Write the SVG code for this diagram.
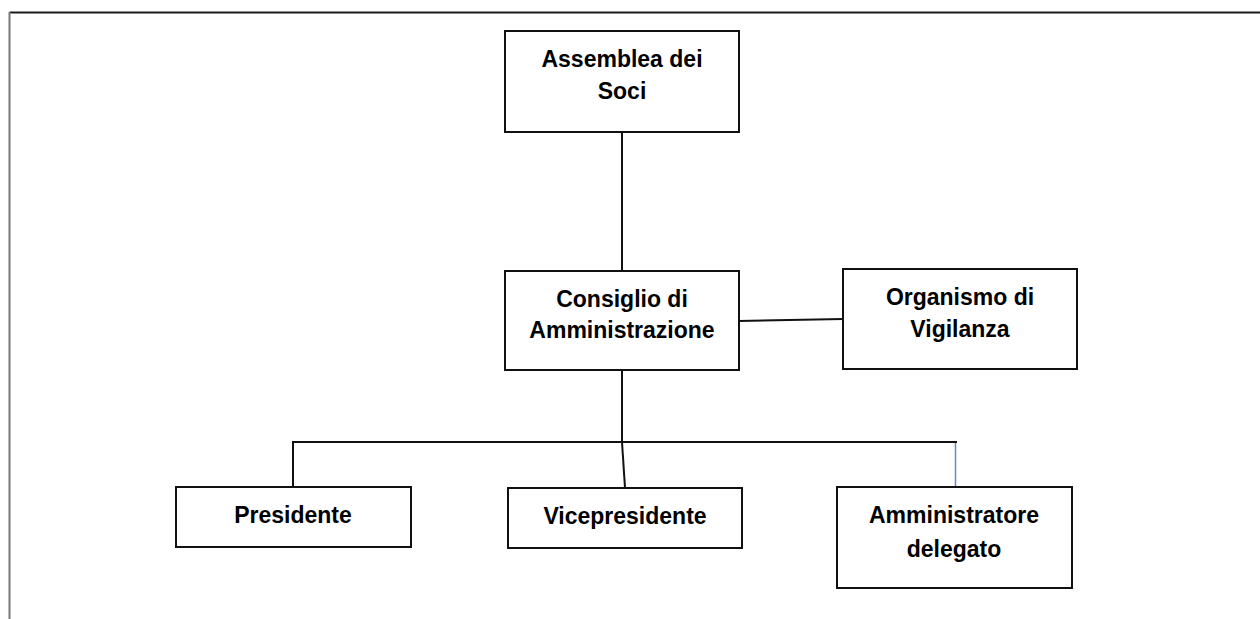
<svg xmlns="http://www.w3.org/2000/svg" width="1260" height="619" viewBox="0 0 1260 619">
<style>
.box{fill:#fff;stroke:#111;stroke-width:2}
.lbl{font-family:"Liberation Sans",Arial,sans-serif;font-weight:700;font-size:23px;fill:#000;text-anchor:middle}
.conn{stroke:#111;stroke-width:2;fill:none}
</style>
<rect width="1260" height="619" fill="#fff"/>
<g id="frame">
<line x1="9.5" y1="12.5" x2="1260" y2="12.5" stroke="#1a1a1a" stroke-width="2"/>
<line x1="9.5" y1="12" x2="9.5" y2="619" stroke="#777" stroke-width="2"/>
</g>
<g id="connectors">
<line class="conn" x1="622" y1="133" x2="622" y2="271"/>
<line class="conn" x1="739" y1="321" x2="843" y2="319"/>
<line class="conn" x1="622" y1="370" x2="622" y2="442"/>
<polyline class="conn" points="293,487 293,442 957,442"/>
<line class="conn" x1="622" y1="442" x2="625" y2="488"/>
<line x1="955.5" y1="443" x2="955.5" y2="487" stroke="#5b8bd0" stroke-width="1.5"/>
</g>
<g id="assemblea">
<rect class="box" x="505" y="31" width="234" height="101"/>
<text class="lbl" x="622" y="67">Assemblea dei</text>
<text class="lbl" x="622" y="99">Soci</text>
</g>
<g id="consiglio">
<rect class="box" x="505" y="271" width="234" height="99"/>
<text class="lbl" x="622" y="307">Consiglio di</text>
<text class="lbl" x="622" y="338">Amministrazione</text>
</g>
<g id="organismo">
<rect class="box" x="843" y="269" width="234" height="100"/>
<text class="lbl" x="960" y="305">Organismo di</text>
<text class="lbl" x="960" y="337">Vigilanza</text>
</g>
<g id="presidente">
<rect class="box" x="176" y="487" width="235" height="60"/>
<text class="lbl" x="293" y="523">Presidente</text>
</g>
<g id="vicepresidente">
<rect class="box" x="508" y="488" width="234" height="60"/>
<text class="lbl" x="625" y="524">Vicepresidente</text>
</g>
<g id="amministratore">
<rect class="box" x="837" y="487" width="235" height="101"/>
<text class="lbl" x="954" y="523">Amministratore</text>
<text class="lbl" x="954" y="557">delegato</text>
</g>
</svg>
